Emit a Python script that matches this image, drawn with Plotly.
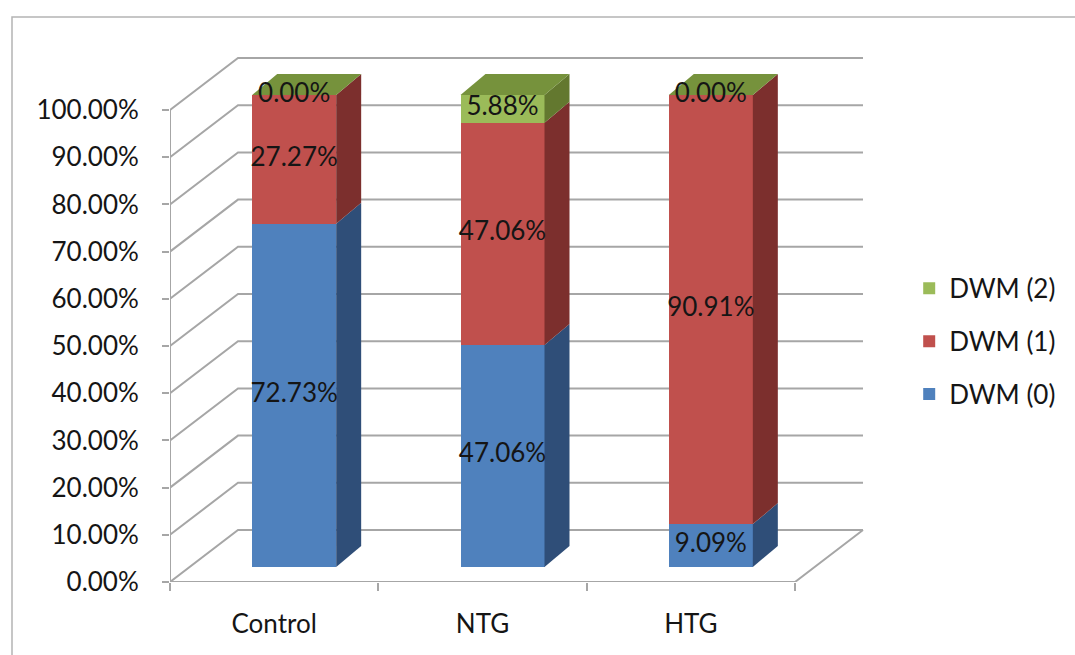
import plotly.graph_objects as go

# ---- data ----
categories = ["Control", "NTG", "HTG"]
series_names = ["DWM (0)", "DWM (1)", "DWM (2)"]
dwm0 = [72.73, 47.06, 9.09]
dwm1 = [27.27, 47.06, 90.91]
dwm2 = [0.00, 5.88, 0.00]
y_ticks = [0, 10, 20, 30, 40, 50, 60, 70, 80, 90, 100]

series_values = [dwm0, dwm1, dwm2]
front_colors = ["#4F81BD", "#C0504D", "#9BBB59"]
side_colors = ["#2F4E78", "#7C2F2D", "#63782F"]
top_color = "#76923C"

# ---- pseudo-3D geometry (in axis units: categories on x, percent on y) ----
PX_X = 625 / 3.0      # pixels per category slot
PX_Y = 4.72           # pixels per percent
WALL_DX, WALL_DY = 68 / PX_X, 52 / PX_Y     # depth of the back wall
FRONT_DX, FRONT_DY = 20 / PX_X, 15 / PX_Y   # bar front plane offset
BAR_DX, BAR_DY = 25 / PX_X, 21 / PX_Y       # bar depth
BAR_W = 84 / PX_X

n = len(categories)
grid_col = "#A6A6A6"
text_col = "#151515"
FONT = "Lato"
FS = 26

fig = go.Figure()

# walls, floor and gridlines
gx, gy = [], []
for v in y_ticks:
    gx += [0, WALL_DX, n + WALL_DX, None]
    gy += [v, v + WALL_DY, v + WALL_DY, None]
gx += [0, n, n + WALL_DX, None, 0, 0]
gy += [0, 0, WALL_DY, None, 0, y_ticks[-1]]
fig.add_trace(go.Scatter(x=gx, y=gy, mode="lines", line=dict(color=grid_col, width=2),
                         hoverinfo="skip", showlegend=False, zorder=0))

# front faces of the stacked bars
centers = [i + 0.5 + FRONT_DX for i in range(n)]
cum = [0.0] * n
bases = []
for k, vals in enumerate(series_values):
    base = [FRONT_DY + c for c in cum]
    bases.append(base)
    fig.add_trace(go.Bar(x=centers, y=vals, base=base, width=BAR_W, name=series_names[k],
                         marker=dict(color=front_colors[k], line=dict(width=0)),
                         legendgroup=series_names[k], legendrank=len(series_values) - k,
                         hoverinfo="skip", zorder=1))
    cum = [c + v for c, v in zip(cum, vals)]

# side faces and top faces
for k, vals in enumerate(series_values):
    for i in range(n):
        b = bases[k][i]
        t = b + vals[i]
        xl = centers[i] - BAR_W / 2
        xr = centers[i] + BAR_W / 2
        if vals[i] > 0:
            fig.add_trace(go.Scatter(
                x=[xr, xr + BAR_DX, xr + BAR_DX, xr, xr],
                y=[b, b + BAR_DY, t + BAR_DY, t, b],
                fill="toself", fillcolor=side_colors[k], mode="none",
                hoverinfo="skip", showlegend=False, zorder=1))
        if k == len(series_values) - 1:
            fig.add_trace(go.Scatter(
                x=[xl, xl + BAR_DX, xr + BAR_DX, xr, xl],
                y=[t, t + BAR_DY, t + BAR_DY, t, t],
                fill="toself", fillcolor=top_color, mode="none",
                hoverinfo="skip", showlegend=False, zorder=1))

# data labels centred on each segment's front face
lx, ly, lt = [], [], []
for k, vals in enumerate(series_values):
    for i in range(n):
        lx.append(centers[i])
        ly.append(bases[k][i] + vals[i] / 2)
        lt.append(f"{vals[i]:.2f}%")
fig.add_trace(go.Scatter(x=lx, y=ly, text=lt, mode="text", textposition="middle center",
                         textfont=dict(family=FONT, size=FS, color=text_col),
                         hoverinfo="skip", showlegend=False, zorder=3))

fig.update_layout(
    width=1075, height=655,
    margin=dict(l=170, r=205, t=40, b=73),
    paper_bgcolor="white", plot_bgcolor="white",
    barmode="overlay", bargap=0,
    font=dict(family=FONT, size=FS, color=text_col),
    showlegend=True,
    legend=dict(x=1.056, y=0.585, xanchor="left", yanchor="top", traceorder="grouped",
                tracegroupgap=16, font=dict(family=FONT, size=FS, color=text_col),
                bgcolor="rgba(0,0,0,0)"),
    xaxis=dict(range=[0, 700 / PX_X], showgrid=False, zeroline=False, showline=False,
               tickmode="array", tickvals=[i + 0.5 for i in range(n)], ticktext=categories,
               ticks="", ticklabelstandoff=24, fixedrange=True,
               minor=dict(tickmode="array", tickvals=list(range(n + 1)), ticks="outside",
                          ticklen=8, tickwidth=2, tickcolor=grid_col, showgrid=False)),
    yaxis=dict(range=[0, 542 / PX_Y], showgrid=False, zeroline=False, showline=False,
               tickmode="array", tickvals=y_ticks, ticktext=[f"{v:.2f}%" for v in y_ticks],
               ticks="outside", ticklen=7, tickwidth=2, tickcolor=grid_col,
               ticklabelstandoff=18, fixedrange=True),
    shapes=[dict(type="path", xref="paper", yref="paper",
                 path=f"M {(12 - 170) / 700},{(582 - 660) / 542} L {(12 - 170) / 700},{(582 - 17) / 542} "
                      f"L {(1080 - 170) / 700},{(582 - 17) / 542}",
                 line=dict(color="#B4B4B4", width=1.5), layer="below")],
)

fig.write_html("out.html")
